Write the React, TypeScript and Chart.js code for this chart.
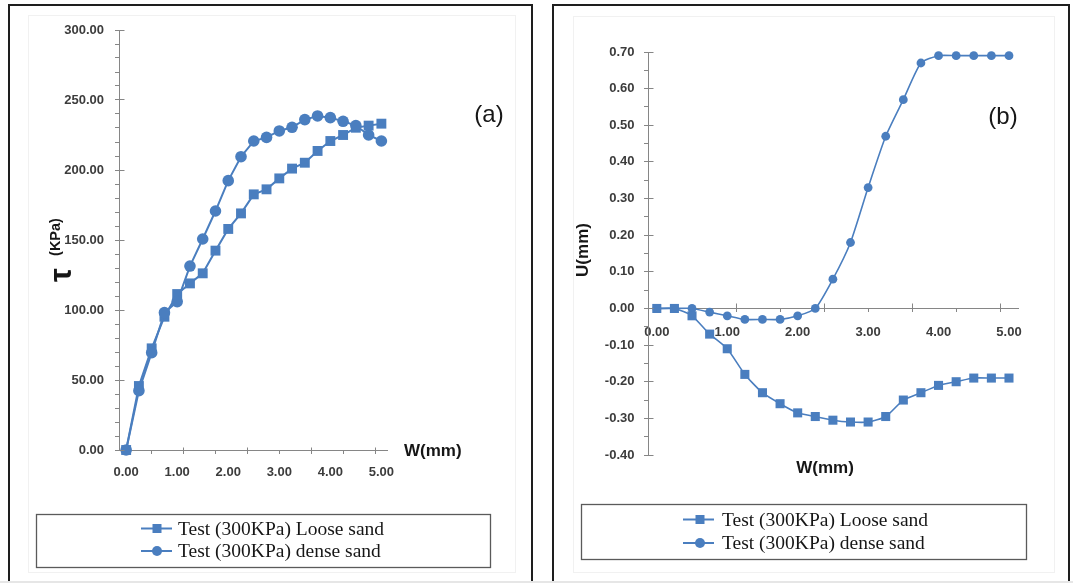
import React, { useEffect, useRef } from 'react';
import { Chart, registerables } from 'chart.js';

Chart.register(...registerables);

// Horizontal displacement W (mm), shared by both tests
const W_MM = [0, 0.25, 0.5, 0.75, 1, 1.25, 1.5, 1.75, 2, 2.25, 2.5, 2.75, 3, 3.25, 3.5, 3.75, 4, 4.25, 4.5, 4.75, 5];

// (a) shear stress τ (kPa)
const TAU_LOOSE = [0, 45.7, 72.6, 95.2, 111.4, 119, 126.2, 142.4, 157.9, 169, 182.6, 186.2, 194, 201, 205.2, 213.6, 220.7, 225, 230.2, 231.7, 233.1];
const TAU_DENSE = [0, 42.4, 69.5, 98.1, 106, 131.4, 150.7, 170.7, 192.4, 209.5, 220.7, 223.3, 227.9, 230.5, 236, 238.6, 237.4, 234.8, 231.7, 225, 220.7];

// (b) vertical displacement U (mm)
const U_LOOSE = [0, 0, -0.02, -0.07, -0.11, -0.18, -0.23, -0.26, -0.285, -0.295, -0.305, -0.31, -0.31, -0.295, -0.25, -0.23, -0.21, -0.2, -0.19, -0.19, -0.19];
const U_DENSE = [0, 0, 0, -0.01, -0.02, -0.03, -0.03, -0.03, -0.02, 0, 0.08, 0.18, 0.33, 0.47, 0.57, 0.67, 0.69, 0.69, 0.69, 0.69, 0.69];

const LOOSE_NAME = 'Test (300KPa) Loose sand';
const DENSE_NAME = 'Test (300KPa) dense sand';

// Axis ticks
const W_LABEL_TICKS = [0, 1, 2, 3, 4, 5];
const W_MARK_TICKS = [0.5, 1.125, 1.75, 2.375, 3, 3.625, 4.25, 4.875];
const W_MAJOR_MARKS = [1.125, 2.375, 3.625, 4.875];
const TAU_LABEL_TICKS = [0, 50, 100, 150, 200, 250, 300];
const U_LABEL_TICKS = [-0.4, -0.3, -0.2, -0.1, 0, 0.1, 0.2, 0.3, 0.4, 0.5, 0.6, 0.7];

const BLUE = '#4a7ebf';
const AXIS = '#868686';
const TICK_TEXT = '#3c3c3c';
const INK = '#161616';
const SANS = '"Liberation Sans", Arial, sans-serif';
const SERIF = '"Liberation Serif", "Times New Roman", serif';

type LegendSpec = {
  x: number; y: number; w: number; h: number;
  rows: number[]; line: [number, number]; marker: number; text: number;
};

type Panel = {
  width: number; height: number;
  pad: { left: number; top: number; right: number; bottom: number };
  yAxisWidth: number;
  xMin: number; xMax: number;
  yMin: number; yMax: number; yStep: number;
  yLabels: number[];
  loose: number[]; dense: number[];
  denseOnTop: boolean;
  tension: number; lineWidth: number;
  circleR: number; rectR: number;
  xPadding: number; yPadding: number;
  xStub: number; yStub: number;
  legend: LegendSpec;
  captions: (ctx: CanvasRenderingContext2D) => void;
};

function rotatedText(ctx: CanvasRenderingContext2D, text: string, x: number, y: number, font: string) {
  ctx.save();
  ctx.translate(x, y);
  ctx.rotate(-Math.PI / 2);
  ctx.font = font;
  ctx.textAlign = 'center';
  ctx.textBaseline = 'middle';
  ctx.fillText(text, 0, 0);
  ctx.restore();
}

const PANEL_A: Panel = {
  width: 545, height: 583,
  pad: { left: 0, top: 30, right: 158, bottom: 133 },
  yAxisWidth: 119,
  xMin: -0.14, xMax: 5.11,
  yMin: 0, yMax: 300, yStep: 10,
  yLabels: TAU_LABEL_TICKS,
  loose: TAU_LOOSE, dense: TAU_DENSE,
  denseOnTop: true,
  tension: 0, lineWidth: 2,
  circleR: 5.8, rectR: 7,
  xPadding: 15, yPadding: 11,
  xStub: 3, yStub: 5,
  legend: { x: 36, y: 514, w: 454, h: 53, rows: [528.5, 551], line: [141, 172], marker: 157, text: 178 },
  captions: (ctx) => {
    ctx.fillStyle = INK;
    ctx.font = `bold 17px ${SANS}`;
    ctx.textAlign = 'left';
    ctx.textBaseline = 'middle';
    ctx.fillText('W(mm)', 404, 451);
    ctx.font = `24px ${SANS}`;
    ctx.textAlign = 'center';
    ctx.fillText('(a)', 489, 115);
    rotatedText(ctx, 'τ', 62, 275, `bold 31px ${SANS}`);
    rotatedText(ctx, '(KPa)', 56, 237, `bold 14.5px ${SANS}`);
  },
};

const PANEL_B: Panel = {
  width: 528, height: 583,
  pad: { left: 0, top: 52, right: 55, bottom: 128 },
  yAxisWidth: 103,
  xMin: -0.125, xMax: 5.128,
  yMin: -0.4, yMax: 0.7, yStep: 0.05,
  yLabels: U_LABEL_TICKS,
  loose: U_LOOSE, dense: U_DENSE,
  denseOnTop: false,
  tension: 0.2, lineWidth: 1.6,
  circleR: 4.4, rectR: 6.4,
  xPadding: 16, yPadding: 9.5,
  xStub: 5, yStub: 5,
  legend: { x: 36, y: 504, w: 445, h: 55, rows: [519.5, 543], line: [138, 169], marker: 155, text: 177 },
  captions: (ctx) => {
    ctx.fillStyle = INK;
    ctx.font = `bold 17px ${SANS}`;
    ctx.textAlign = 'center';
    ctx.textBaseline = 'middle';
    ctx.fillText('W(mm)', 280, 468.5);
    ctx.font = `24px ${SANS}`;
    ctx.fillText('(b)', 458, 117);
    rotatedText(ctx, 'U(mm)', 38.5, 250, `bold 17px ${SANS}`);
  },
};

function decorPlugin(p: Panel) {
  return {
    id: 'panelDecor',
    afterDraw(chart: Chart) {
      const ctx = chart.ctx;
      const xs = chart.scales.x;
      const ys = chart.scales.y;
      const align = (v: number) => Math.round(v - 0.5) + 0.5;
      const axisY = align(ys.getPixelForValue(0));
      const axisX = align(chart.chartArea.left);
      ctx.save();

      // inner halves of the major tick marks
      ctx.strokeStyle = AXIS;
      ctx.lineWidth = 1;
      ctx.beginPath();
      for (const v of W_MAJOR_MARKS) {
        const px = align(xs.getPixelForValue(v));
        ctx.moveTo(px, axisY);
        ctx.lineTo(px, axisY - p.xStub);
      }
      for (const v of p.yLabels) {
        const py = align(ys.getPixelForValue(v));
        ctx.moveTo(axisX, py);
        ctx.lineTo(axisX + p.yStub, py);
      }
      ctx.stroke();

      // legend box
      const lg = p.legend;
      ctx.strokeStyle = '#5a5a5a';
      ctx.lineWidth = 1.3;
      ctx.strokeRect(lg.x + 0.5, lg.y + 0.5, lg.w, lg.h);
      const entries = [
        { name: LOOSE_NAME, style: 'rect' },
        { name: DENSE_NAME, style: 'circle' },
      ];
      entries.forEach((e, i) => {
        const y = lg.rows[i];
        ctx.strokeStyle = BLUE;
        ctx.lineWidth = 2;
        ctx.beginPath();
        ctx.moveTo(lg.line[0], y);
        ctx.lineTo(lg.line[1], y);
        ctx.stroke();
        ctx.fillStyle = BLUE;
        if (e.style === 'rect') {
          ctx.fillRect(lg.marker - 4.5, y - 4.5, 9, 9);
        } else {
          ctx.beginPath();
          ctx.arc(lg.marker, y, 5, 0, Math.PI * 2);
          ctx.fill();
        }
        ctx.fillStyle = INK;
        ctx.font = `19.5px ${SERIF}`;
        ctx.textAlign = 'left';
        ctx.textBaseline = 'middle';
        ctx.fillText(e.name, lg.text, y + 1);
      });

      p.captions(ctx);
      ctx.restore();
    },
  };
}

function makeChart(canvas: HTMLCanvasElement, p: Panel) {
  const tickFont = { family: SANS, size: 13, weight: 'bold' as const };
  const isLabelled = (v: number) => p.yLabels.some((l) => Math.abs(l - v) < 1e-6);

  const looseDs = {
    label: LOOSE_NAME,
    data: W_MM.map((w, i) => ({ x: w, y: p.loose[i] })),
    borderColor: BLUE,
    backgroundColor: BLUE,
    borderWidth: p.lineWidth,
    pointStyle: 'rect' as const,
    pointRadius: p.rectR,
    pointBorderWidth: 0,
    pointBackgroundColor: BLUE,
    tension: p.tension,
    clip: false as const,
  };
  const denseDs = {
    label: DENSE_NAME,
    data: W_MM.map((w, i) => ({ x: w, y: p.dense[i] })),
    borderColor: BLUE,
    backgroundColor: BLUE,
    borderWidth: p.lineWidth,
    pointStyle: 'circle' as const,
    pointRadius: p.circleR,
    pointBorderWidth: 0,
    pointBackgroundColor: BLUE,
    tension: p.tension,
    clip: false as const,
  };
  // the first dataset is painted last, i.e. on top
  const datasets = p.denseOnTop ? [denseDs, looseDs] : [looseDs, denseDs];

  return new Chart(canvas, {
    type: 'line',
    data: { datasets },
    plugins: [decorPlugin(p)],
    options: {
      responsive: false,
      animation: false,
      events: [],
      layout: { padding: p.pad },
      plugins: { legend: { display: false }, tooltip: { enabled: false } },
      scales: {
        x: {
          type: 'linear',
          position: { y: 0 },
          min: p.xMin,
          max: p.xMax,
          afterBuildTicks: (s: any) => {
            s.ticks = W_LABEL_TICKS.map((v) => ({ value: v }));
          },
          ticks: {
            autoSkip: false,
            maxRotation: 0,
            padding: p.xPadding,
            font: tickFont,
            color: TICK_TEXT,
            callback: (v: any) => Number(v).toFixed(2),
          },
          grid: { drawOnChartArea: false, drawTicks: false },
          border: { display: true, color: AXIS, width: 1 },
        },
        xt: {
          type: 'linear',
          position: { y: 0 },
          min: p.xMin,
          max: p.xMax,
          afterBuildTicks: (s: any) => {
            s.ticks = W_MARK_TICKS.map((v) => ({ value: v }));
          },
          ticks: { display: false },
          grid: { drawOnChartArea: false, drawTicks: true, tickLength: 4, tickColor: AXIS },
          border: { display: false },
        },
        y: {
          type: 'linear',
          position: 'left',
          min: p.yMin,
          max: p.yMax,
          afterFit: (s: any) => {
            s.width = p.yAxisWidth;
          },
          ticks: {
            stepSize: p.yStep,
            autoSkip: false,
            padding: p.yPadding,
            font: tickFont,
            color: TICK_TEXT,
            callback: (v: any) => (isLabelled(Number(v)) ? Number(v).toFixed(2) : ''),
          },
          grid: { drawOnChartArea: false, tickLength: 4, tickColor: AXIS },
          border: { display: true, color: AXIS, width: 1 },
        },
      },
    } as any,
  });
}

function PanelChart({ panel, left }: { panel: Panel; left: number }) {
  const ref = useRef<HTMLCanvasElement>(null);
  useEffect(() => {
    if (!ref.current) return;
    const chart = makeChart(ref.current, panel);
    return () => chart.destroy();
  }, [panel]);
  return (
    <canvas
      ref={ref}
      width={panel.width}
      height={panel.height}
      style={{ position: 'absolute', left, top: 0, width: panel.width, height: panel.height }}
    />
  );
}

export default function App() {
  const frame = (left: number, width: number): React.CSSProperties => ({
    position: 'absolute',
    left,
    top: 4,
    width,
    height: 620,
    border: '2px solid #1e1e1e',
    boxSizing: 'border-box',
  });
  const area = (left: number, top: number, width: number, height: number): React.CSSProperties => ({
    position: 'absolute',
    left,
    top,
    width,
    height,
    border: '1px solid #f1f1f1',
    boxSizing: 'border-box',
  });
  return (
    <div
      style={{
        position: 'fixed',
        left: 0,
        top: 0,
        width: 1073,
        height: 583,
        background: '#ffffff',
        overflow: 'hidden',
      }}
    >
      <div style={frame(8, 525)} />
      <div style={frame(552, 518)} />
      <div style={area(28, 15, 488, 558)} />
      <div style={area(573, 16, 482, 557)} />
      <PanelChart panel={PANEL_A} left={0} />
      <PanelChart panel={PANEL_B} left={545} />
      <div style={{ position: 'absolute', left: 0, top: 581, width: 1073, height: 2, background: '#e6e6e6' }} />
    </div>
  );
}
